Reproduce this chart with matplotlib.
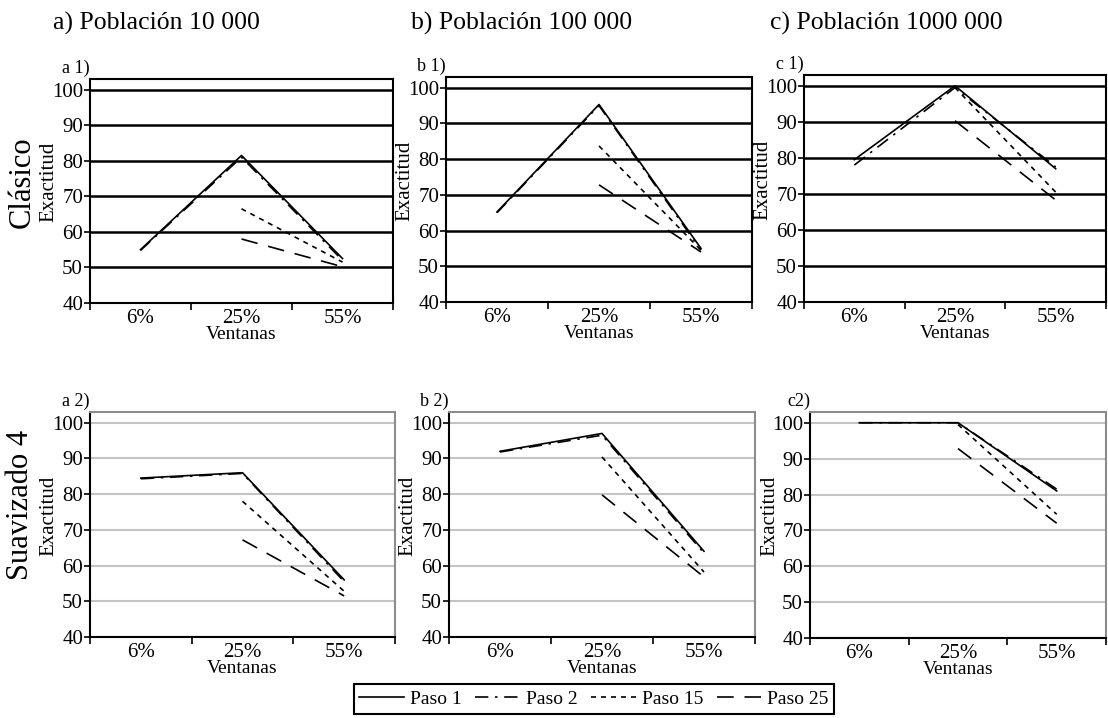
import numpy as np
import matplotlib.pyplot as plt

plt.rcParams['font.family'] = ['Liberation Serif', 'DejaVu Serif']

nan = np.nan

# ventanas en el eje x
categorias = ['6%', '25%', '55%']
series = ['Paso 1', 'Paso 2', 'Paso 15', 'Paso 25']

# exactitud por panel, filas = Paso 1, Paso 2, Paso 15, Paso 25
a1 = [[55.0, 81.5, 52.5],
      [54.8, 81.0, 52.0],
      [nan, 66.5, 51.5],
      [nan, 58.0, 50.2]]
b1 = [[65.2, 95.3, 55.0],
      [65.0, 95.0, 54.5],
      [nan, 83.7, 54.5],
      [nan, 72.8, 54.0]]
c1 = [[79.5, 100.0, 77.0],
      [78.0, 99.5, 77.5],
      [nan, 99.5, 70.5],
      [nan, 90.3, 68.3]]
a2 = [[84.5, 86.0, 56.0],
      [84.3, 85.8, 55.5],
      [nan, 78.0, 52.8],
      [nan, 67.2, 51.5]]
b2 = [[92.0, 97.0, 64.0],
      [91.8, 96.5, 63.5],
      [nan, 90.4, 58.2],
      [nan, 79.8, 56.8]]
c2 = [[100.0, 100.0, 81.0],
      [100.0, 100.0, 81.5],
      [nan, 99.5, 74.5],
      [nan, 92.8, 72.0]]

paneles = [a1, b1, c1, a2, b2, c2]
etiquetas = ['a 1)', 'b 1)', 'c 1)', 'a 2)', 'b 2)', 'c2)']
titulos = ['a) Población 10 000', 'b) Población 100 000', 'c) Población 1000 000']
filas = ['Clásico', 'Suavizado 4']

W, H = 1108, 718
fig = plt.figure(figsize=(W / 100, H / 100), dpi=100)

# cajas de los ejes en pixeles (izq, arriba, der, abajo)
cajas = [(90, 79, 393, 303), (446, 77, 752, 302), (804, 75, 1106, 302),
         (90, 412, 395, 637), (449, 412, 755, 637), (810, 412, 1106, 638)]

estilos = [dict(ls='-'),
           dict(dashes=(8, 4, 1.5, 4)),
           dict(dashes=(3, 3)),
           dict(dashes=(10, 6.5))]

x = np.arange(len(categorias))
handles = None
for k, (datos, caja, etq) in enumerate(zip(paneles, cajas, etiquetas)):
    l, t, r, b = caja
    ax = fig.add_axes([l / W, 1 - b / H, (r - l) / W, (b - t) / H])
    arriba = k < 3
    lineas = []
    for fila, est in zip(datos, estilos):
        ln, = ax.plot(x, fila, color='black', lw=1.2, **est)
        lineas.append(ln)
    if handles is None:
        handles = lineas
    ax.set_xlim(-0.5, 2.5)
    ax.set_ylim(40, 103)
    ax.set_yticks(range(40, 101, 10))
    if arriba:
        ax.grid(axis='y', color='black', lw=1.8)
        for s in ax.spines.values():
            s.set_linewidth(1.5)
    else:
        ax.grid(axis='y', color='#c4c4c4', lw=1.5)
        for s in ['top', 'right']:
            ax.spines[s].set_color('#8c8c8c')
            ax.spines[s].set_linewidth(1.5)
        for s in ['left', 'bottom']:
            ax.spines[s].set_linewidth(1.5)
    ax.set_axisbelow(True)
    ax.set_xticks(x)
    ax.set_xticklabels(categorias)
    ax.set_xticks([-0.5, 0.5, 1.5, 2.5], minor=True)
    ax.tick_params(axis='x', which='major', length=0, labelsize=15, pad=4)
    ax.tick_params(axis='x', which='minor', length=5, width=1.2)
    ax.tick_params(axis='y', length=4, width=1.2, labelsize=15, pad=1)
    ax.set_xlabel('Ventanas', fontsize=14, labelpad=-1)
    ax.set_ylabel('Exactitud', fontsize=15)
    ax.yaxis.set_label_coords(-0.104, 0.54)
    ax.text(0, 1.01, etq, transform=ax.transAxes, ha='right', va='bottom', fontsize=13)

for tx, xp in zip(titulos, [53, 411, 770]):
    fig.text(xp / W, 1 - 23 / H, tx, fontsize=18.5, va='center', ha='left')

fig.text(22 / W, 1 - 182 / H, filas[0], rotation=90, fontsize=22, ha='center', va='center')
fig.text(21 / W, 1 - 505 / H, filas[1], rotation=90, fontsize=22, ha='center', va='center')

leg = fig.legend(handles, series, loc='center', bbox_to_anchor=(594 / W, 1 - 699 / H),
                 ncol=4, frameon=True, fancybox=False, edgecolor='black', framealpha=1,
                 fontsize=14, handlelength=2.3, columnspacing=0.7, handletextpad=0.3,
                 borderpad=0.3)
leg.get_frame().set_linewidth(1.5)

fig.savefig('out.png', dpi=100)
